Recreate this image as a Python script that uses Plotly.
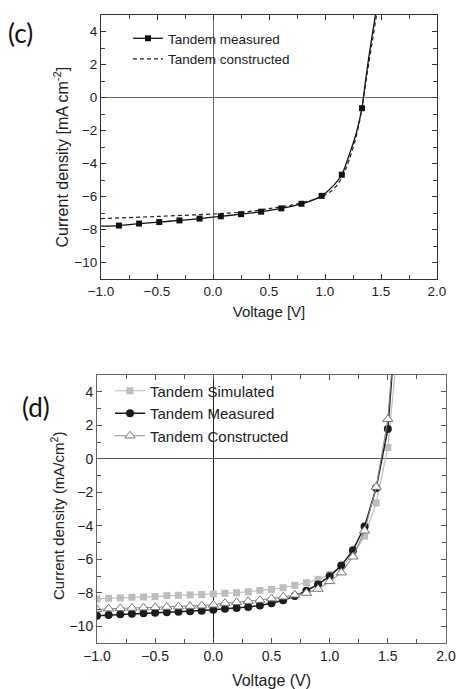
import plotly.graph_objects as go

# ---------------- data: panel (c) ----------------
c_meas_marker_v = [-0.84, -0.66, -0.48, -0.30, -0.12, 0.07, 0.25, 0.43, 0.61, 0.79, 0.97, 1.15, 1.33]
c_meas_marker_j = [-7.76, -7.64, -7.55, -7.45, -7.34, -7.20, -7.07, -6.92, -6.72, -6.44, -5.96, -4.68, -0.65]
c_meas_curve_v = [-1.0, -0.84, -0.66, -0.48, -0.30, -0.12, 0.07, 0.25, 0.43, 0.61, 0.79, 0.88, 0.97,
                  1.06, 1.15, 1.22, 1.28, 1.33, 1.36, 1.39, 1.42, 1.45, 1.47]
c_meas_curve_j = [-7.80, -7.76, -7.64, -7.55, -7.45, -7.34, -7.20, -7.07, -6.92, -6.72, -6.44, -6.25, -5.96,
                  -5.45, -4.68, -3.40, -2.15, -0.65, 0.90, 2.40, 3.70, 5.00, 6.00]
c_cons_v = [-1.0, -0.5, 0.0, 0.3, 0.5, 0.7, 0.85, 0.97, 1.06, 1.12, 1.17, 1.22, 1.27, 1.31, 1.345, 1.38, 1.42, 1.46, 1.48]
c_cons_j = [-7.34, -7.21, -7.06, -6.93, -6.74, -6.52, -6.28, -6.02, -5.65, -5.20, -4.60, -3.70, -2.60, -1.40,
            0.0, 1.60, 3.30, 5.00, 6.00]

# ---------------- data: panel (d) ----------------
d_v = [-1.0, -0.9, -0.8, -0.7, -0.6, -0.5, -0.4, -0.3, -0.2, -0.1, 0.0, 0.1, 0.2, 0.3, 0.4, 0.5,
       0.6, 0.7, 0.8, 0.9, 1.0, 1.1, 1.2, 1.3, 1.4, 1.5]
d_sim_j = [-8.37, -8.33, -8.31, -8.27, -8.25, -8.23, -8.17, -8.15, -8.13, -8.11, -8.07, -8.03, -8.00, -7.94,
           -7.86, -7.80, -7.70, -7.56, -7.40, -7.20, -6.90, -6.45, -5.75, -4.62, -2.64, 0.67]
d_meas_j = [-9.37, -9.33, -9.29, -9.25, -9.22, -9.19, -9.16, -9.14, -9.11, -9.07, -9.02, -8.96, -8.91, -8.85,
            -8.76, -8.63, -8.45, -8.20, -7.88, -7.50, -7.02, -6.37, -5.47, -4.05, -1.75, 1.77]
d_cons_j = [-9.00, -8.95, -8.93, -8.91, -8.89, -8.87, -8.85, -8.83, -8.80, -8.77, -8.72, -8.62, -8.57, -8.50,
            -8.44, -8.35, -8.24, -8.12, -8.02, -7.78, -7.32, -6.80, -5.85, -4.30, -1.69, 2.36]
# where each curve leaves the top of the frame
d_sim_top = (1.57, 5.7)
d_meas_top = (1.55, 6.37)
d_cons_top = (1.55, 6.76)

x_ticks = [-1.0, -0.5, 0.0, 0.5, 1.0, 1.5, 2.0]
y_ticks = [-10, -8, -6, -4, -2, 0, 2, 4]

FONT = "Liberation Sans, Arial, sans-serif"
TXT = "#222222"

fig = go.Figure()

# ---- panel (c) ----
fig.add_trace(go.Scatter(x=c_meas_curve_v, y=c_meas_curve_j, mode="lines",
                         line=dict(color="#111111", width=1.3, shape="spline", smoothing=0.6),
                         showlegend=False, xaxis="x", yaxis="y", hoverinfo="skip"))
fig.add_trace(go.Scatter(x=c_cons_v, y=c_cons_j, mode="lines", name="Tandem constructed",
                         line=dict(color="#222222", width=1.2, dash="4px,3px", shape="spline", smoothing=0.6),
                         showlegend=False, xaxis="x", yaxis="y"))
fig.add_trace(go.Scatter(x=c_meas_marker_v, y=c_meas_marker_j, mode="markers",
                         marker=dict(symbol="square", size=6, color="#111111"),
                         showlegend=False, xaxis="x", yaxis="y"))
# legend entries for (c)
fig.add_trace(go.Scatter(x=[None], y=[None], mode="lines+markers", name="Tandem measured",
                         line=dict(color="#111111", width=1.3),
                         marker=dict(symbol="square", size=6, color="#111111"),
                         xaxis="x", yaxis="y", legend="legend"))
fig.add_trace(go.Scatter(x=[None], y=[None], mode="lines", name="Tandem constructed",
                         line=dict(color="#222222", width=1.2, dash="4px,3px"),
                         xaxis="x", yaxis="y", legend="legend"))

# ---- panel (d) ----
fig.add_trace(go.Scatter(x=d_v + [d_sim_top[0]], y=d_sim_j + [d_sim_top[1]], mode="lines+markers",
                         name="Tandem Simulated",
                         line=dict(color="#bdbdbd", width=1.2),
                         marker=dict(symbol="square", size=7, color="#bdbdbd"),
                         xaxis="x2", yaxis="y2", legend="legend2"))
fig.add_trace(go.Scatter(x=d_v + [d_meas_top[0]], y=d_meas_j + [d_meas_top[1]], mode="lines+markers",
                         name="Tandem Measured",
                         line=dict(color="#1c1c1c", width=1.5),
                         marker=dict(symbol="circle", size=8, color="#1c1c1c"),
                         xaxis="x2", yaxis="y2", legend="legend2"))
fig.add_trace(go.Scatter(x=d_v + [d_cons_top[0]], y=d_cons_j + [d_cons_top[1]], mode="lines+markers",
                         name="Tandem Constructed",
                         line=dict(color="#8a8a8a", width=1.1),
                         marker=dict(symbol="triangle-up", size=9, color="white",
                                     line=dict(color="#777777", width=1)),
                         xaxis="x2", yaxis="y2", legend="legend2"))

W, H = 459, 689
def xd(a, b):
    return [a / W, b / W]
def yd(top, bottom):
    return [1 - bottom / H, 1 - top / H]

axis_common = dict(showgrid=False, showline=True, mirror="ticks", ticks="inside", automargin=False,
                   zeroline=True, zerolinewidth=1, layer="above traces")

fig.update_layout(
    template="none",
    width=W, height=H, margin=dict(l=0, r=0, t=0, b=0, autoexpand=False),
    paper_bgcolor="white", plot_bgcolor="white",
    font=dict(family=FONT, color=TXT),
    xaxis=dict(domain=xd(101, 437), range=[-1, 2], anchor="y", tickvals=x_ticks, tickformat=".1f",
               ticklen=5, minor=dict(dtick=0.25, tick0=-1, ticks="inside", ticklen=4, tickcolor="#444"),
               linecolor="#333333", tickcolor="#333333", zerolinecolor="#666666",
               tickfont=dict(size=13.5), title=dict(text="Voltage [V]", font=dict(size=15), standoff=8),
               **axis_common),
    yaxis=dict(domain=yd(15, 279), range=[-11, 5], anchor="x", tickvals=y_ticks,
               ticklen=5, minor=dict(dtick=1, tick0=0, ticks="inside", ticklen=4, tickcolor="#444"),
               linecolor="#333333", tickcolor="#333333", zerolinecolor="#666666",
               tickfont=dict(size=13.5), **axis_common),
    xaxis2=dict(domain=xd(97, 446), range=[-1, 2], anchor="y2", tickvals=x_ticks, tickformat=".1f",
                ticklen=5, minor=dict(dtick=0.25, tick0=-1, ticks="inside", ticklen=4, tickcolor="#555"),
                linecolor="#666666", tickcolor="#555555", zerolinecolor="#222222",
                tickfont=dict(size=14), title=dict(text="Voltage (V)", font=dict(size=16), standoff=12),
                **axis_common),
    yaxis2=dict(domain=yd(375, 643), range=[-11, 5], anchor="x2", tickvals=y_ticks,
                ticklen=5, minor=dict(dtick=1, tick0=0, ticks="inside", ticklen=4, tickcolor="#555"),
                linecolor="#666666", tickcolor="#555555", zerolinecolor="#555555",
                tickfont=dict(size=14), **axis_common),
    legend=dict(x=128 / W, y=1 - 23 / H, xanchor="left", yanchor="top", bgcolor="rgba(0,0,0,0)",
                font=dict(size=13.5, family=FONT, color=TXT), tracegroupgap=0, itemwidth=30),
    legend2=dict(x=110 / W, y=1 - 374.5 / H, xanchor="left", yanchor="top", bgcolor="rgba(0,0,0,0)",
                 font=dict(size=15, family=FONT, color=TXT), tracegroupgap=0, itemwidth=30),
    annotations=[
        dict(text="(c)", x=6 / W, y=1 - 33.5 / H, xref="paper", yref="paper", xanchor="left",
             yanchor="middle", showarrow=False, font=dict(size=26, family="Lato, Open Sans, sans-serif", color="#111")),
        dict(text="(d)", x=20 / W, y=1 - 406.5 / H, xref="paper", yref="paper", xanchor="left",
             yanchor="middle", showarrow=False, font=dict(size=26, family="Lato, Open Sans, sans-serif", color="#111")),
        dict(text="Current density [mA cm<sup>-2</sup>]", textangle=-90, x=61.5 / W, y=1 - 157 / H,
             xref="paper", yref="paper", xanchor="center", yanchor="middle", showarrow=False,
             font=dict(size=16, family=FONT, color=TXT)),
        dict(text="Current density (mA/cm<sup>2</sup>)", textangle=-90, x=57.5 / W, y=1 - 515.5 / H,
             xref="paper", yref="paper", xanchor="center", yanchor="middle", showarrow=False,
             font=dict(size=15, family=FONT, color=TXT)),
    ],
)

fig.write_html("out.html")
